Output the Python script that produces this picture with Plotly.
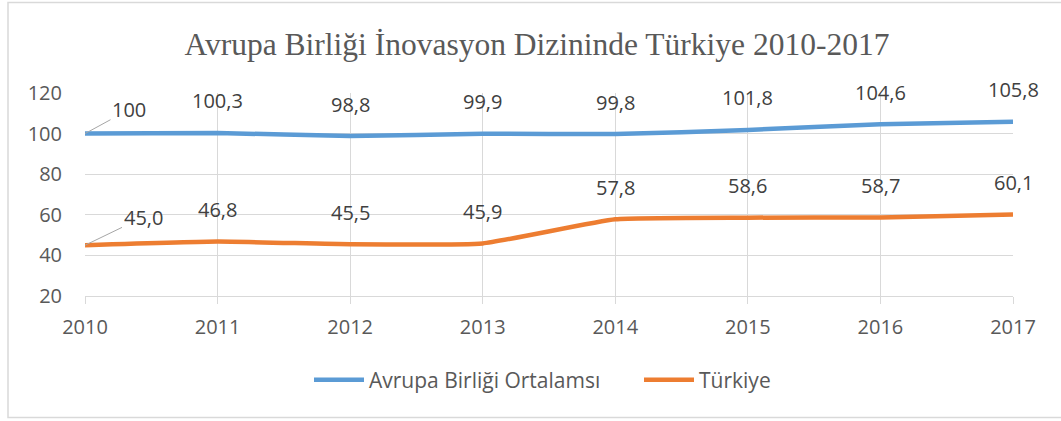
import plotly.graph_objects as go

years = [2010, 2011, 2012, 2013, 2014, 2015, 2016, 2017]
ab_ortalama = [100, 100.3, 98.8, 99.9, 99.8, 101.8, 104.6, 105.8]
turkiye = [45.0, 46.8, 45.5, 45.9, 57.8, 58.6, 58.7, 60.1]
y_ticks = [20, 40, 60, 80, 100, 120]

series_names = ["Avrupa Birliği Ortalamsı", "Türkiye"]
colors = ["#5B9BD5", "#ED7D31"]
title_text = "Avrupa Birliği İnovasyon Dizininde Türkiye 2010-2017"

ab_labels = [("{:g}".format(v)).replace(".", ",") for v in ab_ortalama]
tr_labels = [("{:.1f}".format(v)).replace(".", ",") for v in turkiye]

W, H = 1061, 421
ML, MR, MT, MB = 85, 48, 93, 125
PW = W - ML - MR
PH = H - MT - MB

fig = go.Figure()
for name, vals, col, lg in [(series_names[0], ab_ortalama, colors[0], "legend"),
                            (series_names[1], turkiye, colors[1], "legend2")]:
    fig.add_trace(go.Scatter(
        x=years, y=vals, name=name, mode="lines", legend=lg,
        line=dict(color=col, width=4.5, shape="spline", smoothing=0.4),
        hoverinfo="skip",
    ))

label_font = dict(family="Open Sans", size=20, color="#404040")
annotations = []
for vals, labels, first_off in [(ab_ortalama, ab_labels, (44, -24)),
                                (turkiye, tr_labels, (58, -28))]:
    for i, (x, v, t) in enumerate(zip(years, vals, labels)):
        if i == 0:
            annotations.append(dict(
                x=x, y=v, xref="x", yref="y", text=t, showarrow=True,
                ax=first_off[0], ay=first_off[1], arrowhead=0, arrowwidth=1,
                arrowcolor="#a6a6a6", standoff=0, font=label_font))
        else:
            annotations.append(dict(
                x=x, y=v, xref="x", yref="y", text=t, showarrow=False,
                yshift=32, font=label_font))


def px_to_paper_x(px):
    return (px - ML) / PW


def py_to_paper_y(py):
    return (H - MB - py) / PH


# chart frame
fig.add_shape(type="rect", xref="paper", yref="paper",
              x0=px_to_paper_x(8), x1=px_to_paper_x(1075),
              y0=py_to_paper_y(417.5), y1=py_to_paper_y(2.5),
              line=dict(color="#d9d9d9", width=1.5), layer="below")

legend_font = dict(family="Open Sans", size=21, color="#595959")

fig.update_layout(
    width=W, height=H,
    margin=dict(l=ML, r=MR, t=MT, b=MB),
    paper_bgcolor="white", plot_bgcolor="white",
    title=dict(text=title_text, x=537 / W, xanchor="center",
               y=1 - 44 / H, yanchor="middle", yref="container",
               font=dict(family="Liberation Serif", size=31.5, color="#595959")),
    showlegend=True,
    legend=dict(orientation="h", x=px_to_paper_x(309), xanchor="left",
                y=py_to_paper_y(380), yanchor="middle",
                font=legend_font, itemwidth=50),
    legend2=dict(orientation="h", x=px_to_paper_x(639), xanchor="left",
                 y=py_to_paper_y(380), yanchor="middle",
                 font=legend_font, itemwidth=50),
    annotations=annotations,
    xaxis=dict(range=[years[0], years[-1]], tickmode="array", tickvals=years,
               ticktext=[str(y) for y in years],
               showgrid=True, gridcolor="#d9d9d9", gridwidth=1,
               showline=True, linecolor="#d9d9d9", linewidth=1,
               ticks="outside", ticklen=7, tickcolor="#d9d9d9",
               ticklabelstandoff=6, zeroline=False,
               tickfont=dict(family="Open Sans", size=20, color="#595959")),
    yaxis=dict(range=[20, 120], tickmode="array", tickvals=y_ticks,
               showgrid=True, gridcolor="#d9d9d9", gridwidth=1,
               showline=False, zeroline=False, ticks="",
               ticklabelstandoff=22,
               tickfont=dict(family="Open Sans", size=20, color="#595959")),
)

fig.write_html("out.html", config={"displayModeBar": False},
               post_script="document.body.style.margin='0';"
                           "document.body.style.overflow='hidden';")
